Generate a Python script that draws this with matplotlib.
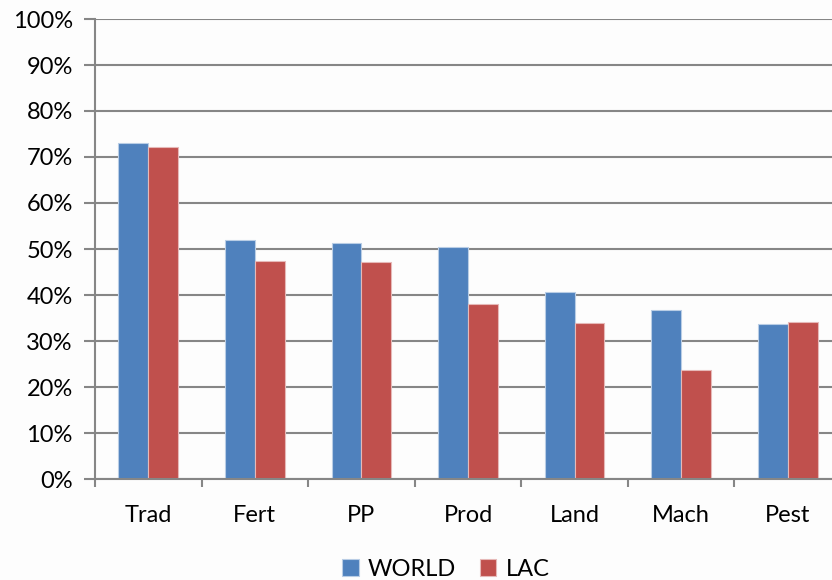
import numpy as np
import matplotlib.pyplot as plt
from matplotlib.ticker import FuncFormatter

categories = ["Trad", "Fert", "PP", "Prod", "Land", "Mach", "Pest"]
world = [73.0, 51.9, 51.3, 50.4, 40.7, 36.7, 33.8]
lac = [72.2, 47.5, 47.2, 38.0, 33.9, 23.8, 34.2]

plt.rcParams['font.family'] = ['Lato', 'DejaVu Sans']

fig = plt.figure(figsize=(8.32, 5.8), dpi=100)
fig.patch.set_facecolor('#fdfdfd')
# axes spans a bit past the right edge, like the original export
ax = fig.add_axes([95 / 832, 101 / 580, 746 / 832, 460 / 580])
ax.set_facecolor('none')

x = np.arange(len(categories))
w = 0.28
ax.bar(x - w / 2, world, w, color='#4F81BD', edgecolor='#b9cde5', linewidth=0.8, label='WORLD', zorder=3)
ax.bar(x + w / 2, lac, w, color='#C0504D', edgecolor='#e6b9b8', linewidth=0.8, label='LAC', zorder=3)

ax.set_xlim(-0.5, len(categories) - 0.5)
ax.set_ylim(0, 100)
ax.set_yticks(np.arange(0, 101, 10))
ax.yaxis.set_major_formatter(FuncFormatter(lambda v, p: f"{int(v)}%"))
ax.set_xticks(x)
ax.set_xticklabels(categories)
ax.set_xticks(np.arange(-0.5, len(categories)), minor=True)
ax.tick_params(axis='x', which='major', length=0, labelsize=17, pad=19)
ax.tick_params(axis='x', which='minor', length=6, width=1.5, color='#868686')
ax.tick_params(axis='y', length=8, width=1.5, color='#868686', labelsize=17, pad=8)

ax.grid(axis='y', color='#868686', linewidth=1.5, zorder=1)
for s in ['top', 'right']:
    ax.spines[s].set_visible(False)
for s in ['left', 'bottom']:
    ax.spines[s].set_color('#868686')
    ax.spines[s].set_linewidth(1.5)
ax.spines['bottom'].set_zorder(4)

fig.legend(loc='center', bbox_to_anchor=(446 / 832, 1 - 569 / 580), ncol=2, frameon=False,
           fontsize=17, handlelength=0.7, handleheight=0.7, handletextpad=0.4, columnspacing=1.0)

fig.savefig('out.png', dpi=100, facecolor=fig.get_facecolor())
